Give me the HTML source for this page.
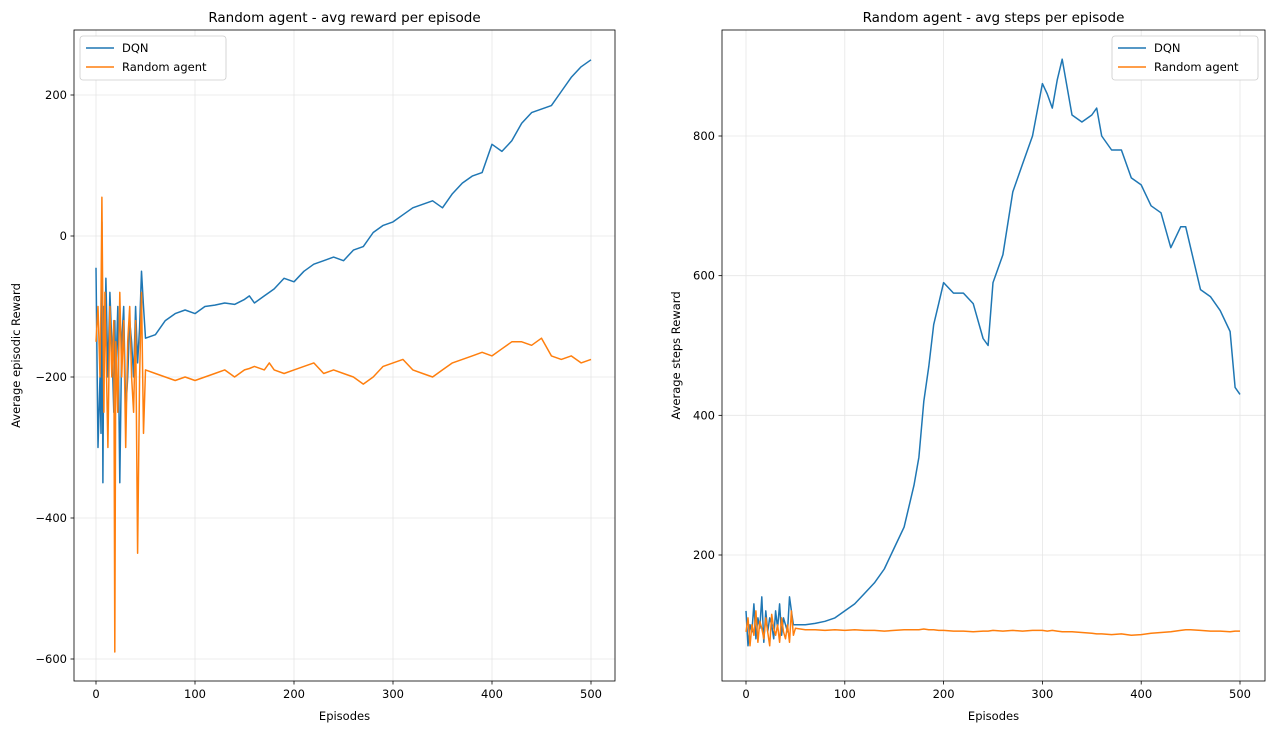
<!DOCTYPE html>
<html><head><meta charset="utf-8"><style>
body{margin:0;background:#fff}
svg{display:block;font-family:"DejaVu Sans","Liberation Sans",sans-serif}
</style></head><body>
<svg id="c" width="1274" height="732"></svg>
<script>
// Left panel data (reward)
const lEpisodes = [0,2,4,5,6,7,8,9,10,12,14,16,18,19,20,22,24,26,28,30,32,34,36,38,40,42,44,46,48,50,60,70,80,90,100,110,120,130,140,150,155,160,170,175,180,190,200,210,220,230,240,250,260,270,280,290,300,310,320,330,340,350,360,370,380,390,400,410,420,430,440,450,460,470,480,490,500];
const lDqn = [-45,-300,-200,-280,20,-350,-100,-150,-60,-200,-80,-150,-250,-120,-200,-100,-350,-150,-100,-250,-200,-120,-150,-200,-100,-180,-130,-50,-100,-145,-140,-120,-110,-105,-110,-100,-98,-95,-97,-90,-85,-95,-85,-80,-75,-60,-65,-50,-40,-35,-30,-35,-20,-15,5,15,20,30,40,45,50,40,60,75,85,90,130,120,135,160,175,180,185,205,225,240,250];
const lRandom = [-150,-100,-200,-90,55,-120,-250,-80,-150,-300,-100,-200,-120,-590,-150,-250,-80,-200,-120,-300,-150,-100,-200,-250,-120,-450,-200,-80,-280,-190,-195,-200,-205,-200,-205,-200,-195,-190,-200,-190,-188,-185,-190,-180,-190,-195,-190,-185,-180,-195,-190,-195,-200,-210,-200,-185,-180,-175,-190,-195,-200,-190,-180,-175,-170,-165,-170,-160,-150,-150,-155,-145,-170,-175,-170,-180,-175];
// Right panel data (steps)
const rEpisodes = [0,2,4,6,8,10,12,14,16,18,20,22,24,26,28,30,32,34,36,38,40,42,44,46,48,50,60,70,80,90,100,110,120,130,140,150,160,170,175,180,185,190,195,200,210,220,230,240,245,250,260,270,280,290,300,305,310,315,320,330,340,350,355,360,370,380,390,400,410,420,430,440,445,450,460,470,480,490,495,500];
const rDqn = [120,70,100,90,130,80,110,95,140,75,120,90,110,100,80,120,95,130,85,110,100,90,140,120,100,100,100,102,105,110,120,130,145,160,180,210,240,300,340,420,470,530,560,590,575,575,560,510,500,590,630,720,760,800,875,860,840,880,910,830,820,830,840,800,780,780,740,730,700,690,640,670,670,640,580,570,550,520,440,430];
const rRandom = [90,110,70,100,85,120,75,105,95,80,110,90,70,115,95,85,100,75,110,90,80,100,75,120,85,95,93,93,92,93,92,93,92,92,91,92,93,93,93,94,93,93,92,92,91,91,90,91,91,92,91,92,91,92,92,91,92,91,90,90,89,88,87,87,86,87,85,86,88,89,90,92,93,93,92,91,91,90,91,91];

const xTicks=[0,100,200,300,400,500];
const lYTicks=[200,0,-200,-400,-600];
const rYTicks=[800,600,400,200];

const svg=document.getElementById('c');
const NS='http://www.w3.org/2000/svg';
function el(t,a,p){const e=document.createElementNS(NS,t);for(const k in a)e.setAttribute(k,a[k]);(p||svg).appendChild(e);return e;}

function panel(cfg){
  const g=el('g',{});
  
  
  const X=v=>cfg.x0+(v-0)*(cfg.x500-cfg.x0)/500;
  const Y=v=>cfg.ya+(v-cfg.va)*(cfg.yb-cfg.ya)/(cfg.vb-cfg.va);
  xTicks.forEach(t=>{const l=el('line',{x1:X(t),x2:X(t),y1:cfg.top,y2:cfg.bot,stroke:'#e6e6e6','stroke-width':0.8},g);
    });
  cfg.yTicks.forEach(t=>{const l=el('line',{x1:cfg.left,x2:cfg.right,y1:Y(t),y2:Y(t),stroke:'#e6e6e6','stroke-width':0.8},g);
    });
  const series=[[cfg.dqnX,cfg.dqn,'#1f77b4','dqn-line'],[cfg.rX,cfg.rnd,'#ff7f0e','random-agent-line']];
  series.forEach(s=>{
    const d=s[0].map((e,i)=>(i?'L':'M')+X(e).toFixed(1)+','+Y(s[1][i]).toFixed(1)).join('');
    const p=el('path',{d:d,fill:'none',stroke:s[2],'stroke-width':1.5,'stroke-linejoin':'round'},g);
    
  });
  const f=el('rect',{x:cfg.left,y:cfg.top,width:cfg.right-cfg.left,height:cfg.bot-cfg.top,fill:'none',stroke:'#000','stroke-width':0.8},g);
  
  xTicks.forEach(t=>{
    el('line',{x1:X(t),x2:X(t),y1:cfg.bot,y2:cfg.bot+3.5,stroke:'#000','stroke-width':0.8},g);
    const tx=el('text',{x:X(t),y:cfg.bot+17,'font-size':11.5,'text-anchor':'middle'},g);tx.textContent=t;
    
  });
  cfg.yTicks.forEach(t=>{
    el('line',{x1:cfg.left-3.5,x2:cfg.left,y1:Y(t),y2:Y(t),stroke:'#000','stroke-width':0.8},g);
    const tx=el('text',{x:cfg.left-7,y:Y(t)+4,'font-size':11.5,'text-anchor':'end'},g);tx.textContent=t<0?'\u2212'+(-t):t;
    
  });
  const ti=el('text',{x:(cfg.left+cfg.right)/2,y:22,'font-size':13.5,'text-anchor':'middle'},g);ti.textContent=cfg.title;
  
  const xl=el('text',{x:(cfg.left+cfg.right)/2,y:720,'font-size':11.5,'text-anchor':'middle'},g);xl.textContent='Episodes';
  
  const yl=el('text',{x:0,y:0,'font-size':11.5,'text-anchor':'middle',transform:`translate(${cfg.ylx},${(cfg.top+cfg.bot)/2}) rotate(-90)`},g);yl.textContent=cfg.ytitle;
  
  const lg=el('g',{},g);
  el('rect',{x:cfg.lgx,y:36,width:cfg.lgw,height:44,rx:3,fill:'#fff',stroke:'#ccc','stroke-width':0.8},lg);
  [['DQN','#1f77b4'],['Random agent','#ff7f0e']].forEach((it,i)=>{
    const y=48+i*19;
    el('line',{x1:cfg.lgx+6,x2:cfg.lgx+34,y1:y,y2:y,stroke:it[1],'stroke-width':1.5},lg);
    const t=el('text',{x:cfg.lgx+42,y:y+4,'font-size':11.5},lg);t.textContent=it[0];
    
  });
}
panel({name:'reward-panel',left:74,right:615,top:30,bot:681,x0:96,x500:591,ya:95,va:200,yb:659,vb:-600,
  yTicks:lYTicks,dqnX:lEpisodes,dqn:lDqn,rX:lEpisodes,rnd:lRandom,title:'Random agent - avg reward per episode',
  ytitle:'Average episodic Reward',ylx:20,lgx:80,lgw:146});
panel({name:'steps-panel',left:722,right:1265,top:30,bot:681,x0:746,x500:1240,ya:136,va:800,yb:555,vb:200,
  yTicks:rYTicks,dqnX:rEpisodes,dqn:rDqn,rX:rEpisodes,rnd:rRandom,title:'Random agent -  avg steps per episode',
  ytitle:'Average steps Reward',ylx:680,lgx:1112,lgw:146});
</script>
</body></html>
